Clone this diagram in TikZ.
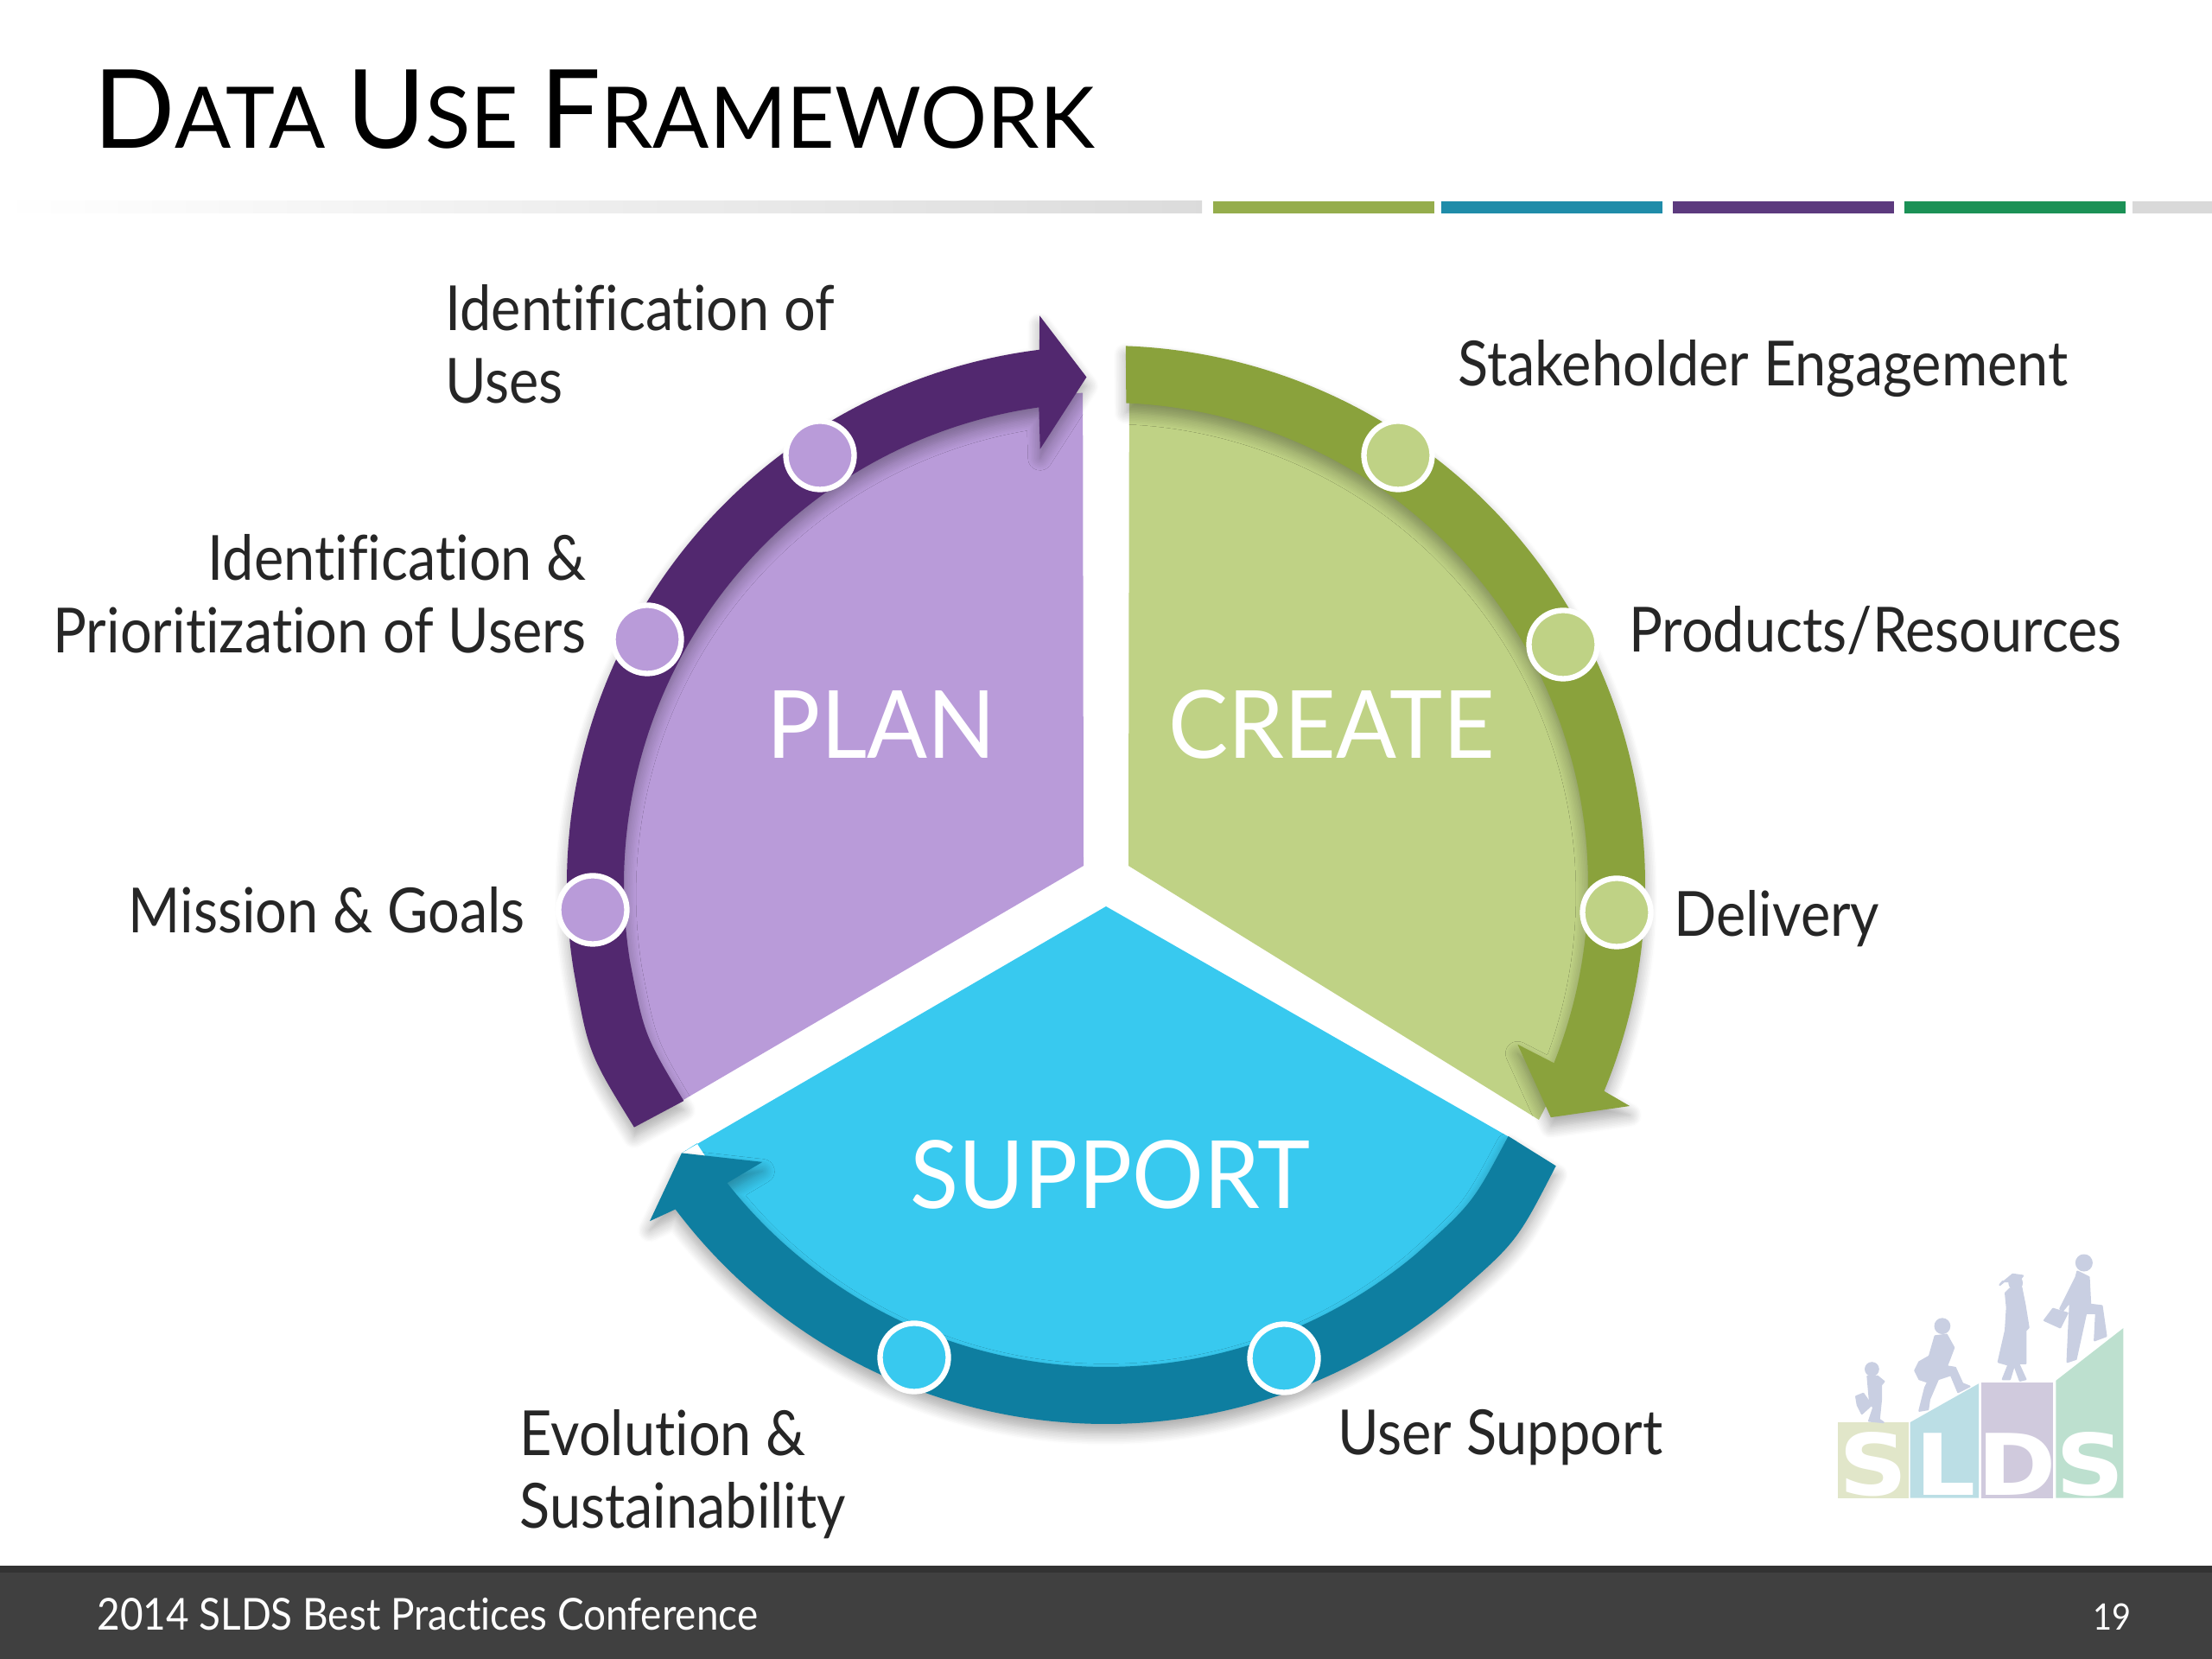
\documentclass[tikz,border=0pt]{standalone}
\usepackage{fontspec}
\setmainfont[FakeStretch=0.9, Ligatures=NoCommon]{Lato}
\newfontfamily\titlefont[FakeStretch=0.98, Ligatures=NoCommon]{Lato}
\newfontfamily\headfont[FakeStretch=0.95]{Lato}
\newfontfamily\logofont[FakeStretch=1.12]{DejaVu Sans}
\usetikzlibrary{shadows.blur}
\definecolor{planlight}{HTML}{B99BD9}
\definecolor{plandark}{HTML}{52286F}
\definecolor{createlight}{HTML}{BFD285}
\definecolor{createdark}{HTML}{8AA23C}
\definecolor{supportlight}{HTML}{38C9EF}
\definecolor{supportdark}{HTML}{0E7EA0}
\definecolor{footerbg}{HTML}{404040}
\definecolor{txtdark}{HTML}{262626}
\definecolor{peoplecol}{HTML}{C9CFE2}
\definecolor{stripegreen}{HTML}{95AD4C}
\definecolor{stripeteal}{HTML}{1F8CA9}
\definecolor{stripepurple}{HTML}{5C3A7E}
\definecolor{stripeemerald}{HTML}{1B9156}
\definecolor{logoa}{HTML}{E1E6C9}
\definecolor{logob}{HTML}{BBDEE5}
\definecolor{logoc}{HTML}{D0CADD}
\definecolor{logod}{HTML}{BDE0CF}

\begin{document}
\begin{tikzpicture}[
    font=\fontsize{20.5}{24}\selectfont,
    band/.style={blur shadow={shadow blur steps=10, shadow xshift=0pt, shadow yshift=-3pt, shadow blur radius=4pt, shadow opacity=35}},
    dot/.style={circle, draw=white, line width=1.8pt, inner sep=0pt, minimum size=0.79cm},
    lbl/.style={text=txtdark, align=left, anchor=west},
    lblr/.style={text=txtdark, align=right, anchor=east},
    head/.style={text=white, font=\headfont\fontsize{31}{36}\selectfont},
    stripe/.style={minimum height=0.14cm, inner sep=0pt, anchor=west},
    letter/.style={text=white, font=\logofont\bfseries\fontsize{28}{30}\selectfont},
    person/.style={fill=peoplecol, draw=peoplecol, line width=0.6pt, line join=round}
]
\useasboundingbox (0,0) rectangle (25.6,19.2);

% Title and stripes
\node[anchor=west, text=black, font=\titlefont] (title) at (0.96,17.93)
    {\fontsize{36}{40}\selectfont D\fontsize{28}{40}\selectfont ATA \fontsize{36}{40}\selectfont U\fontsize{28}{40}\selectfont SE \fontsize{36}{40}\selectfont F\fontsize{28}{40}\selectfont RAMEWORK};
\fill[left color=white, right color=black!14] (0,16.73) rectangle (13.91,16.87);
\node[stripe, fill=stripegreen, minimum width=2.56cm] (s1) at (14.03,16.8) {};
\node[stripe, fill=stripeteal, minimum width=2.56cm] (s2) at (16.67,16.8) {};
\node[stripe, fill=stripepurple, minimum width=2.56cm] (s3) at (19.35,16.8) {};
\node[stripe, fill=stripeemerald, minimum width=2.56cm] (s4) at (22.03,16.8) {};
\node[stripe, fill=black!15, minimum width=0.93cm] (s5) at (24.67,16.8) {};

% Wheel
\begin{scope}[shift={(12.8,8.96)}]
\fill[planlight] (-0.26,0.22) -- (92.7:5.7) arc[start angle=92.7, end angle=207.1, radius=5.7] -- cycle;
\fill[createlight] (0.26,0.22) -- (87.3:5.7) arc[start angle=87.3, end angle=-28.5, radius=5.7] -- cycle;
\fill[supportlight] (0,-0.25) -- (-32:5.6) arc[start angle=-32, end angle=-147.7, radius=5.6] -- (212.3:5.81) -- cycle;

\fill[plandark, band] (207.2:6.14) .. controls (198:6.3) .. (189:6.24) arc[start angle=189, end angle=97.1, radius=6.24]
    -- (96.65:6.63) -- (92.2:5.88) -- (98.6:5.10) -- (98:5.58)
    arc[start angle=98, end angle=189, radius=5.58] .. controls (198:5.62) .. (207.1:5.49) -- cycle;
\fill[createdark, band] (87.9:6.24) arc[start angle=87.9, end angle=-22.5, radius=6.24]
    -- (-22.9:6.58) -- (-27.6:5.81) -- (-21.2:5.11) -- (-21.7:5.58)
    arc[start angle=-21.7, end angle=87.6, radius=5.58] -- cycle;
\fill[supportdark, band] (-32:6.14) .. controls (-41:6.3) .. (-50:6.24) arc[start angle=-50, end angle=-143, radius=6.24]
    -- (216.4:6.56) -- (212.3:5.81) -- (218.9:5.11) -- (218.2:5.58)
    arc[start angle=218.2, end angle=310, radius=5.58] .. controls (319:5.62) .. (328:5.49) -- cycle;
\end{scope}

% Markers
\node[dot, fill=planlight] (plan1) at (9.49,13.93) {};
\node[dot, fill=planlight] (plan2) at (7.49,11.80) {};
\node[dot, fill=planlight] (plan3) at (6.86,8.67) {};
\node[dot, fill=createlight] (create1) at (16.18,13.93) {};
\node[dot, fill=createlight] (create2) at (18.09,11.74) {};
\node[dot, fill=createlight] (create3) at (18.71,8.64) {};
\node[dot, fill=supportlight] (support1) at (14.86,3.48) {};
\node[dot, fill=supportlight] (support2) at (10.58,3.49) {};

% Labels
\node[head] (plan) at (10.20,10.82) {PLAN};
\node[head] (create) at (15.41,10.82) {CREATE};
\node[head] (support) at (12.85,5.60) {SUPPORT};

\node[lbl] (lab1) at (5.03,15.22) {Identification of\\Uses};
\node[lblr] (lab2) at (6.91,12.33) {Identification \&\\Prioritization of Users};
\node[lblr] (lab3) at (6.20,8.67) {Mission \& Goals};
\node[lbl] (lab4) at (16.75,14.93) {Stakeholder Engagement};
\node[lbl] (lab5) at (18.73,11.90) {Products/Resources};
\node[lbl] (lab6) at (19.25,8.57) {Delivery};
\node[lbl] (lab7) at (15.36,2.56) {User Support};
\node[lbl] (lab8) at (5.89,2.14) {Evolution \&\\Sustainability};

% Logo, in steps of a third of a pixel
\begin{scope}[shift={(20.4,5.2)}, x=0.003333cm, y=-0.003333cm]
\fill[logoa] (260,740) rectangle (508,1003);
\fill[logob] (513,740) -- (752,605) -- (752,1003) -- (513,1003) -- cycle;
\fill[logoc] (762,600) rectangle (1010,1003);
\fill[logod] (1020,595) -- (1255,412) -- (1255,1003) -- (1020,1003) -- cycle;
\node[letter] (logoS) at (385,885) {S};
\node[letter] (logoL) at (635,885) {L};
\node[letter] (logoD) at (885,885) {D};
\node[letter] (logoT) at (1140,885) {S};
\begin{scope}[person]
\filldraw (380,555) circle[radius=22];
\filldraw (365,580) -- (400,580) -- (422,598) -- (412,610) -- (412,660) -- (405,730) -- (420,740) -- (370,735) -- (385,690) -- (372,660) -- cycle;
\filldraw (325,650) -- (350,640) -- (378,680) -- (345,710) -- (330,680) -- cycle;
\filldraw (625,405) circle[radius=25];
\filldraw (600,440) -- (640,435) -- (665,480) -- (650,520) -- (640,545) -- (670,550) -- (695,605) -- (720,615) -- (680,635) -- (655,575) -- (610,590) -- (580,660) -- (575,695) -- (545,700) -- (565,620) -- (575,600) -- (545,590) -- (530,560) -- (545,530) -- (580,510) -- cycle;
\filldraw (880,255) circle[radius=22];
\filldraw (825,262) -- (870,225) -- (905,230) -- (890,250) -- (835,250) -- cycle;
\filldraw (860,275) -- (900,270) -- (912,330) -- (925,410) -- (915,420) -- (915,535) -- (890,535) -- (915,590) -- (895,595) -- (875,540) -- (860,590) -- (835,590) -- (855,540) -- (820,530) -- (845,420) -- (850,340) -- (845,290) -- cycle;
\filldraw (1118,185) circle[radius=27];
\filldraw (1095,215) -- (1135,235) -- (1140,330) -- (1180,335) -- (1195,440) -- (1155,455) -- (1160,360) -- (1125,360) -- (1090,520) -- (1060,530) -- (1065,420) -- (1070,320) -- (1045,350) -- (1035,345) -- (1090,235) -- cycle;
\filldraw (1010,345) -- (1060,360) -- (1035,410) -- (980,385) -- cycle;
\end{scope}
\end{scope}

% Footer
\fill[footerbg] (0,0) rectangle (25.6,1.08);
\fill[black!80] (0,1.0) rectangle (25.6,1.08);
\node[anchor=west, text=white, font=\fontsize{14.5}{18}\selectfont] (conf) at (1.0,0.52) {2014 SLDS Best Practices Conference};
\node[text=white, font=\fontsize{12}{16}\selectfont] (pageno) at (24.44,0.49) {19};
\end{tikzpicture}
\end{document}
